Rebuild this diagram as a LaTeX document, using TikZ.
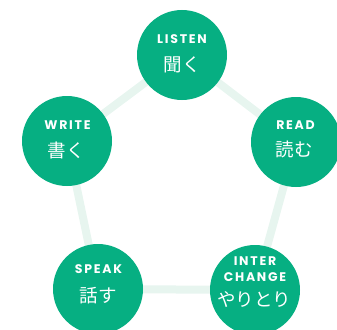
\documentclass[tikz,border=0pt]{standalone}
\usepackage{fontspec}
\usetikzlibrary{backgrounds}
\newfontfamily\latfont[LetterSpace=14]{Poppins}
\newfontfamily\jpfont{Noto Sans CJK JP}
\definecolor{skillgreen}{RGB}{6,175,130}
\definecolor{linkgreen}{RGB}{231,245,239}
\tikzset{
  skill/.style={circle, fill=skillgreen, minimum size=90pt, inner sep=0pt},
  en/.style={text=white, inner sep=0pt, font=\latfont\bfseries\fontsize{12.5}{13}\selectfont},
  jp/.style={text=white, inner sep=0pt, font=\jpfont\fontsize{18.5}{20}\selectfont},
  link/.style={draw=linkgreen, line width=8pt}
}
\begin{document}
\begin{tikzpicture}[x=1pt,y=-1pt]
\useasboundingbox (0,0) rectangle (337,329);
\node[skill] (listen) at (182,55) {};
\node[skill] (read) at (296,142) {};
\node[skill] (write) at (67,141) {};
\node[skill] (speak) at (98,289) {};
\node[skill] (inter) at (255,290) {};
\begin{scope}[on background layer]
\draw[link] (listen.center) -- (read.center) -- (inter.center) -- (speak.center) -- (write.center) -- (listen.center);
\end{scope}
\node[en] (t1) at (182,39) {LISTEN};
\node[jp] (j1) at (182,64.5) {聞く};
\node[en] (t2) at (295.5,125.5) {READ};
\node[jp] (j2) at (294,149) {読む};
\node[en] (t3) at (67.5,125) {WRITE};
\node[jp] (j3) at (66,150) {書く};
\node[en] (t4) at (98.5,269) {SPEAK};
\node[jp] (j4) at (98,296) {話す};
\node[en] (t5a) at (255,261) {INTER};
\node[en] (t5b) at (255,277) {CHANGE};
\node[jp] (j5) at (254,300) {やりとり};
\end{tikzpicture}
\end{document}
